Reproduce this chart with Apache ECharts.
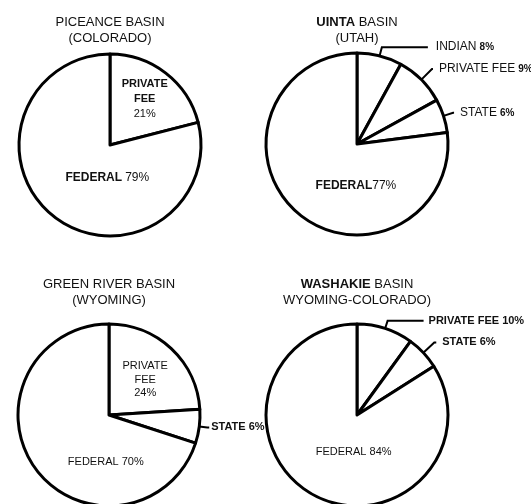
<!DOCTYPE html>
<html><head><meta charset="utf-8">
<script src="https://cdn.jsdelivr.net/npm/echarts@6/dist/echarts.min.js"></script>
<style>html,body{margin:0;padding:0;background:#fff}#c{width:531px;height:504px}</style>
</head><body><div id="c"></div>
<script>
// ---- data ----
const titleMain = ['PICEANCE BASIN', 'UINTA BASIN', 'GREEN RIVER BASIN', 'WASHAKIE BASIN'];
const titleSub = ['(COLORADO)', '(UTAH)', '(WYOMING)', 'WYOMING-COLORADO)'];
const catsPiceance = ['PRIVATE FEE', 'FEDERAL'];
const valsPiceance = [21, 79];
const catsUinta = ['INDIAN', 'PRIVATE FEE', 'STATE', 'FEDERAL'];
const valsUinta = [8, 9, 6, 77];
const catsGreen = ['PRIVATE FEE', 'STATE', 'FEDERAL'];
const valsGreen = [24, 6, 70];
const catsWashakie = ['PRIVATE FEE', 'STATE', 'FEDERAL'];
const valsWashakie = [10, 6, 84];

// ---- styles / layout ----
const INK = '#111';
const SANS = '"Liberation Sans", Arial, sans-serif';
const R = 91;

const stackedBold = p => p.name.split(' ').map(w => '{s|' + w + '}').join('\n') + '\n{n|' + p.value + '%}';
const inlineBold = p => '{b|' + p.name + '} {m|' + p.value + '%}';
const tightBold = p => '{b|' + p.name + '}{m|' + p.value + '%}';
const outsideMixed = p => '{t|' + p.name + '} {v|' + p.value + '%}';
const stackedSans = p => p.name.split(' ').join('\n') + '\n' + p.value + '%';
const inlineSans = p => p.name + ' ' + p.value + '%';

const richText = {
  s: {fontFamily: SANS, fontSize: 11, fontWeight: 'bold', color: INK, lineHeight: 15},
  n: {fontFamily: SANS, fontSize: 11, color: INK, lineHeight: 15},
  b: {fontFamily: SANS, fontSize: 12, fontWeight: 'bold', color: INK},
  m: {fontFamily: SANS, fontSize: 12, color: INK},
  t: {fontFamily: SANS, fontSize: 12, color: INK},
  v: {fontFamily: SANS, fontSize: 10, fontWeight: 'bold', color: INK}
};

const charts = [
  {cats: catsPiceance, vals: valsPiceance, center: [110, 145],
   labels: [
     {pos: 'inside', fmt: stackedBold, off: [5, -8]},
     {pos: 'inside', fmt: inlineBold, off: [27, -6]}
   ]},
  {cats: catsUinta, vals: valsUinta, center: [357, 144],
   labels: [
     {pos: 'outside', fmt: outsideMixed, len: 9, len2: 46, dist: 8},
     {pos: 'outside', fmt: outsideMixed, len: 15, len2: 1, dist: 6},
     {pos: 'outside', fmt: outsideMixed, len: 10, len2: 1, dist: 6}
     , {pos: 'inside', fmt: tightBold, off: [31, 5]}
   ]},
  {cats: catsGreen, vals: valsGreen, center: [109, 415],
   labels: [
     {pos: 'inside', fmt: stackedSans, off: [3, 0], lh: 13.5},
     {pos: 'outside', fmt: inlineSans, len: 8, len2: 2, dist: 2, bold: true},
     {pos: 'inside', fmt: inlineSans, off: [36, 18]}
   ]},
  {cats: catsWashakie, vals: valsWashakie, center: [357, 415],
   labels: [
     {pos: 'outside', fmt: inlineSans, len: 8, len2: 36, dist: 5, bold: true},
     {pos: 'outside', fmt: inlineSans, len: 15, len2: 2, dist: 6, bold: true},
     {pos: 'inside', fmt: inlineSans, off: [20, -6]}
   ]}
];

const titlePos = [[110, 14], [357, 14], [109, 276], [357, 276]];
const boldWord = [false, true, false, true];

const titles = titleMain.map((t, i) => {
  const words = t.split(' ');
  const first = boldWord[i] ? '{k|' + words[0] + '} ' + words.slice(1).join(' ') : t;
  return {
    text: first + '\n' + titleSub[i],
    left: titlePos[i][0], top: titlePos[i][1], textAlign: 'center', padding: 0,
    textStyle: {fontFamily: SANS, fontSize: 13, fontWeight: 'normal', color: INK, lineHeight: 16,
      rich: {k: {fontFamily: SANS, fontSize: 13, fontWeight: 'bold', color: INK, lineHeight: 16}}}
  };
});

const series = charts.map((c, si) => ({
  type: 'pie',
  center: c.center,
  radius: R,
  startAngle: 90,
  clockwise: true,
  silent: true,
  avoidLabelOverlap: false,
  animation: false,
  itemStyle: {color: '#fff', borderColor: '#000', borderWidth: 3},
  labelLayout: p => {
    const l = charts[si].labels[p.dataIndex];
    return l && l.off ? {dx: l.off[0], dy: l.off[1]} : {};
  },
  data: c.cats.map((name, di) => {
    const l = c.labels[di];
    const label = {
      show: true, position: l.pos, formatter: l.fmt, color: INK,
      fontFamily: SANS, fontSize: 11, fontWeight: l.bold ? 'bold' : 'normal',
      lineHeight: l.lh || 14, align: 'center', textBorderWidth: 0, rich: richText
    };
    if (l.pos === 'outside') { label.align = 'left'; label.distanceToLabelLine = l.dist; }
    return {
      name, value: c.vals[di], label,
      labelLine: l.pos === 'outside'
        ? {show: true, length: l.len, length2: l.len2, smooth: false, lineStyle: {color: '#000', width: 2}}
        : {show: false}
    };
  })
}));

const chart = echarts.init(document.getElementById('c'), null, {renderer: 'canvas'});
chart.setOption({backgroundColor: '#fff', animation: false, title: titles, series});
</script></body></html>
